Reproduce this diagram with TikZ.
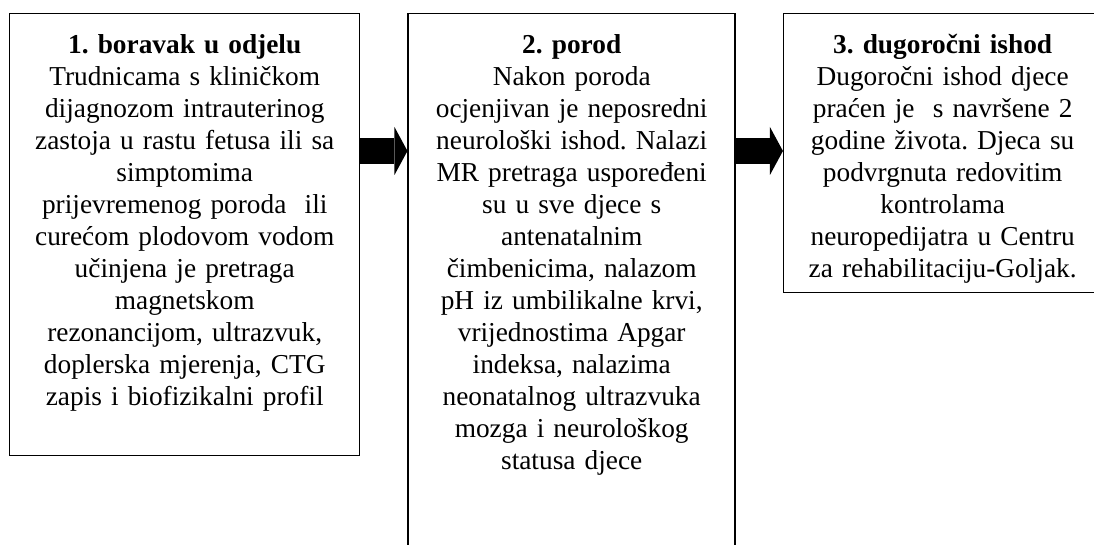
\documentclass[tikz,border=0pt]{standalone}
\usepackage{fontspec}
\setmainfont{Liberation Serif}
\frenchspacing
\usetikzlibrary{positioning,arrows.meta}
\definecolor{colorline}{RGB}{0,0,0}
\definecolor{colortext}{RGB}{0,0,0}

\begin{document}
\begin{tikzpicture}[
    x=0.75pt, y=-0.75pt,
    node distance = 35.25pt,
    font={\fontsize{20.5}{24}\selectfont},
    base/.style={text=colortext,draw=colorline,line width=1.1pt,align=center,rectangle,inner xsep=3pt,inner ysep=0pt,text height=30pt},
    blockarrow/.style={line width=19.5pt,-{Triangle[length=9.75pt,width=36pt,line width=0pt]}},
]
    \useasboundingbox (0,0) rectangle (1094,545);
    \clip (0,0) rectangle (1094,545);

    % Boxes
    \node[base,anchor=north west,text width=256.5pt,text depth=301.5pt] (stay) at (9,13)
        {\textbf{1. boravak u odjelu}\\Trudnicama s kliničkom\\dijagnozom intrauterinog\\zastoja u rastu fetusa ili sa\\simptomima\\prijevremenog poroda\ \ ili\\curećom plodovom vodom\\učinjena je pretraga\\magnetskom\\rezonancijom, ultrazvuk,\\doplerska mjerenja, CTG\\zapis i biofizikalni profil};
    \node[base,right=of stay.north east,anchor=north west,text width=239.25pt,text depth=390pt] (birth)
        {\textbf{2. porod}\\Nakon poroda\\ocjenjivan je neposredni\\neurološki ishod. Nalazi\\MR pretraga uspoređeni\\su u sve djece s\\antenatalnim\\čimbenicima, nalazom\\pH iz umbilikalne krvi,\\vrijednostima Apgar\\indeksa, nalazima\\neonatalnog ultrazvuka\\mozga i neurološkog\\statusa djece};
    \node[base,right=of birth.north east,anchor=north west,text width=232.5pt,text depth=179.25pt] (outcome)
        {\textbf{3. dugoročni ishod}\\Dugoročni ishod djece\\praćen je\ \ s navršene 2\\godine života. Djeca su\\podvrgnuta redovitim\\kontrolama\\neuropedijatra u Centru\\za rehabilitaciju-Goljak.};

    % Arrows
    \draw[blockarrow] ([yshift=-103.5pt]stay.north east) -- ([yshift=-103.5pt]birth.north west);
    \draw[blockarrow] ([yshift=-103.5pt]birth.north east) -- ([yshift=-103.5pt]outcome.north west);

\end{tikzpicture}
\end{document}
